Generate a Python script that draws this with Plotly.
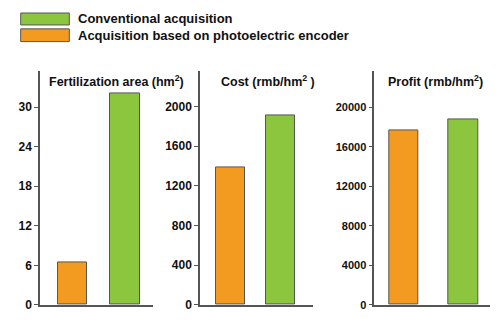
import plotly.graph_objects as go

# Data
methods = ["Acquisition based on photoelectric encoder", "Conventional acquisition"]
fertilization_area = [6.5, 32.0]      # hm²
cost = [1390, 1912]                   # rmb/hm²
profit = [17700, 18800]               # rmb/hm²

area_ticks = [0, 6, 12, 18, 24, 30]
cost_ticks = [0, 400, 800, 1200, 1600, 2000]
profit_ticks = [0, 4000, 8000, 12000, 16000, 20000]

titles = ["Fertilization area (hm<sup>2</sup>)",
          "Cost (rmb/hm<sup>2</sup> )",
          "Profit (rmb/hm<sup>2</sup>)"]

ORANGE = "#F39A21"
GREEN = "#8CC63F"
colors = [ORANGE, GREEN]
FONT = "Liberation Sans, Arial, sans-serif"
W, H = 500, 327

fig = go.Figure()

panels = [
    # values, ticks, x-domain (px), x-range, bar width, y max, tick font size
    (fertilization_area, area_ticks, (40, 153), (-0.628, 1.536), 0.556, 35.4, 12),
    (cost, cost_ticks, (200, 313), (-0.604, 1.647), 0.58, 2354, 12),
    (profit, profit_ticks, (374.3, 490), (-0.498, 1.456), 0.5, 23650, 11),
]

y_dom = (1 - 311.6 / H, 1 - 73 / H)

for i, (vals, ticks, xd, xr, bw, ymax, tfs) in enumerate(panels):
    n = "" if i == 0 else str(i + 1)
    fig.add_trace(go.Bar(
        x=list(range(len(methods))), y=vals,
        marker=dict(color=colors, line=dict(color="#555555", width=1)),
        width=bw, showlegend=False,
        xaxis="x" + n, yaxis="y" + n,
        hovertext=methods,
    ))
    fig.layout["xaxis" + n] = dict(
        domain=[xd[0] / W, xd[1] / W], range=list(xr), anchor="y" + n,
        showticklabels=False, ticks="", showgrid=False, zeroline=False,
        showline=True, linecolor="#555555", linewidth=1.5,
    )
    fig.layout["yaxis" + n] = dict(
        domain=list(y_dom), range=[0, ymax], anchor="x" + n,
        tickvals=ticks, ticktext=["<b>%d</b>" % t for t in ticks],
        ticks="outside", ticklen=4, tickwidth=1.2, tickcolor="#555555",
        showgrid=False, zeroline=False,
        showline=True, linecolor="#555555", linewidth=1.5,
        tickfont=dict(family=FONT, size=tfs, color="#111111"),
    )

# Panel titles
title_x = [116, 268, 435]
for t, cx in zip(titles, title_x):
    fig.add_annotation(
        x=cx / W, y=1 - 83 / H, xref="paper", yref="paper",
        text="<b>" + t + "</b>", showarrow=False, xanchor="center", yanchor="middle",
        font=dict(family=FONT, size=12.5, color="#111111"),
    )

# Legend (swatch + label)
legend_rows = [(methods[1], GREEN, 13.3, 25.5), (methods[0], ORANGE, 29.5, 42.5)]
for label, col, y0, y1 in legend_rows:
    fig.add_shape(
        type="rect", xref="paper", yref="paper",
        x0=20.7 / W, x1=69.3 / W, y0=1 - y1 / H, y1=1 - y0 / H,
        fillcolor=col, line=dict(color="#555555", width=1),
    )
    fig.add_annotation(
        x=76 / W, y=1 - (y0 + y1) / 2 / H, xref="paper", yref="paper",
        text="<b>" + label + "</b>", showarrow=False, xanchor="left", yanchor="middle",
        font=dict(family=FONT, size=13, color="#111111"),
    )

fig.update_layout(
    width=W, height=H,
    margin=dict(l=0, r=0, t=0, b=0),
    paper_bgcolor="white", plot_bgcolor="white",
    bargap=0,
)

fig.write_html("out.html")
